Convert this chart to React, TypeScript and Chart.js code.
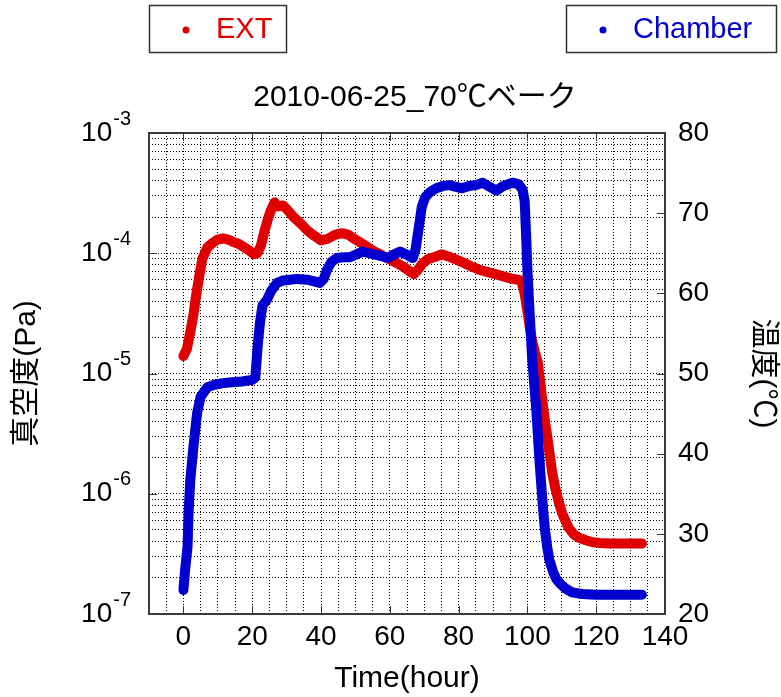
import React, { useEffect, useRef } from "react";
import { Chart, registerables } from "chart.js";

Chart.register(...registerables);

// ---- data ----
const extHours = [0, 1, 2, 3, 3.5, 4.5, 5.5, 7, 8.5, 10, 11.5, 13, 14.5, 16, 17.5, 19, 20.5, 21.5, 22.5, 23.5, 24.5, 25.5, 26.5, 27.5, 29, 30.5, 32, 34, 36, 38, 40, 42, 44, 46, 48, 50, 52, 54, 56, 58, 60, 62, 64, 66, 67, 68, 69.5, 71, 73, 75, 77, 79.5, 82, 84, 86, 89, 91.5, 94, 96, 97.7, 98.5, 99.2, 100, 100.7, 101.5, 102.2, 103, 103.7, 104.4, 105.1, 105.8, 106.5, 107.2, 108, 109, 110, 111, 112, 113.5, 115, 117, 119, 121, 124, 127, 130, 133.3];
const extPa = [1.4e-5, 1.6e-5, 2.2e-5, 3.2e-5, 4.1e-5, 6.2e-5, 9.0e-5, 1.12e-4, 1.22e-4, 1.3e-4, 1.33e-4, 1.3e-4, 1.24e-4, 1.2e-4, 1.13e-4, 1.06e-4, 9.8e-5, 1.0e-4, 1.15e-4, 1.5e-4, 1.9e-4, 2.3e-4, 2.65e-4, 2.45e-4, 2.5e-4, 2.25e-4, 2.0e-4, 1.78e-4, 1.55e-4, 1.4e-4, 1.28e-4, 1.32e-4, 1.42e-4, 1.47e-4, 1.42e-4, 1.3e-4, 1.2e-4, 1.1e-4, 1.02e-4, 9.5e-5, 8.9e-5, 8.3e-5, 7.7e-5, 7.0e-5, 6.7e-5, 7.2e-5, 8.2e-5, 8.9e-5, 9.3e-5, 9.8e-5, 9.4e-5, 8.8e-5, 8.2e-5, 7.7e-5, 7.3e-5, 6.9e-5, 6.6e-5, 6.3e-5, 6.1e-5, 6.0e-5, 5.6e-5, 4.6e-5, 3.3e-5, 2.4e-5, 1.8e-5, 1.5e-5, 1.25e-5, 8.5e-6, 5.8e-6, 4.0e-6, 2.95e-6, 2.1e-6, 1.5e-6, 1.15e-6, 8.8e-7, 7.0e-7, 6.0e-7, 5.2e-7, 4.6e-7, 4.3e-7, 4.1e-7, 3.95e-7, 3.9e-7, 3.85e-7, 3.85e-7, 3.85e-7, 3.85e-7];

const chamberHours = [0, 0.5, 1.2, 1.5, 2, 2.9, 4, 5, 7, 9, 11.6, 14, 17, 20, 20.9, 21.7, 22.3, 23, 24.3, 25.5, 27.2, 29, 31, 33, 36, 38, 39.7, 40.8, 41.7, 43, 44.6, 46.5, 48.4, 50, 52, 54, 56, 58, 59.4, 61, 63, 65, 66.7, 67.5, 68, 68.7, 69.3, 70.3, 71.6, 73.5, 75.5, 77.4, 79, 81, 83, 85, 87, 89, 91, 93, 95.7, 97.5, 98.6, 99.2, 99.6, 100, 100.6, 101.4, 102.6, 103.5, 104.3, 105, 105.7, 106.4, 107.5, 108.5, 109.5, 111, 113, 116, 120, 125, 130, 133.3];
const chamberTemp = [23, 25.5, 28.4, 32.6, 36.7, 40.8, 45.1, 47.1, 48.3, 48.6, 48.8, 48.9, 49.0, 49.2, 49.5, 54, 56.5, 58.5, 59.2, 60.3, 61.3, 61.6, 61.7, 61.8, 61.7, 61.5, 61.3, 61.8, 62.9, 63.9, 64.4, 64.5, 64.5, 64.8, 65.2, 65.0, 64.8, 64.6, 64.4, 64.8, 65.2, 64.8, 64.4, 65.5, 67, 69, 70.8, 72, 72.6, 73.1, 73.4, 73.5, 73.3, 73.1, 73.4, 73.5, 73.8, 73.3, 72.8, 73.4, 73.8, 73.6, 72.9, 71.5, 67.5, 63, 57.9, 51.7, 45.4, 39.2, 34.5, 30.9, 28.5, 26.7, 25.2, 24.3, 23.8, 23.2, 22.7, 22.5, 22.4, 22.4, 22.4, 22.4];

const seriesLabels = ["EXT", "Chamber"];
const chartTitle = "2010-06-25_70℃ベーク";
const xTitle = "Time(hour)";
const yLeftTitle = "真空度(Pa)";
const yRightTitle = "温度(℃)";

const xTickLabels = [0, 20, 40, 60, 80, 100, 120, 140];
const xGridHours = [-10, -5, 0, 5, 10, 15, 20, 25, 30, 35, 40, 45, 50, 55, 60, 65, 70, 75, 80, 85, 90, 95, 100, 105, 110, 115, 120, 125, 130, 135, 140];
const pressureDecades = [-7, -6, -5, -4, -3];
const pressureMinorFactors = [2, 3, 4, 5, 6, 7, 8, 9];
const tempTicks = [20, 30, 40, 50, 60, 70, 80];

const FONT = '"Liberation Sans", "Noto Sans CJK JP", sans-serif';
const RED = "#e00000";
const BLUE = "#0000d0";

const decorPlugin = {
  id: "decor",
  afterDraw(chart: any) {
    const { ctx, chartArea: a, scales } = chart;
    const xs = scales.x;
    const yl = scales.y;
    const yr = scales.y1;
    ctx.save();
    // tick marks
    ctx.setLineDash([]);
    ctx.strokeStyle = "#333";
    ctx.lineWidth = 1;
    ctx.beginPath();
    xTickLabels.forEach((v) => {
      const px = Math.round(xs.getPixelForValue(v)) + 0.5;
      ctx.moveTo(px, a.bottom);
      ctx.lineTo(px, a.bottom - 8);
      ctx.moveTo(px, a.top);
      ctx.lineTo(px, a.top + 8);
    });
    pressureDecades.forEach((e) => {
      const py = Math.round(yl.getPixelForValue(Math.pow(10, e))) + 0.5;
      ctx.moveTo(a.left, py);
      ctx.lineTo(a.left + 8, py);
    });
    tempTicks.forEach((t) => {
      const py = Math.round(yr.getPixelForValue(t)) + 0.5;
      ctx.moveTo(a.right, py);
      ctx.lineTo(a.right - 8, py);
    });
    ctx.stroke();
    // frame
    ctx.lineWidth = 2;
    ctx.strokeStyle = "#3a3a3a";
    ctx.strokeRect(a.left, a.top, a.right - a.left, a.bottom - a.top);

    // left tick labels with superscripts
    ctx.fillStyle = "#000";
    ctx.textBaseline = "middle";
    ctx.textAlign = "left";
    pressureDecades.forEach((e) => {
      const py = yl.getPixelForValue(Math.pow(10, e));
      ctx.font = `28px ${FONT}`;
      const base = "10";
      const bw = ctx.measureText(base).width;
      ctx.font = `20px ${FONT}`;
      const exp = String(e);
      const ew = ctx.measureText(exp).width;
      const right = a.left - 18;
      const x0 = right - ew - bw - 1;
      ctx.font = `28px ${FONT}`;
      ctx.fillText(base, x0, py);
      ctx.font = `20px ${FONT}`;
      ctx.fillText(exp, x0 + bw + 1, py - 14);
    });

    // title
    ctx.font = `30px ${FONT}`;
    ctx.textAlign = "center";
    ctx.fillText(chartTitle, (a.left + a.right) / 2 + 8, 98);

    // legend boxes
    const boxes = [
      { x: 149, w: 137 },
      { x: 566, w: 210 },
    ];
    chart.data.datasets.forEach((ds: any) => {
      const b = boxes[ds.legendIndex];
      ctx.fillStyle = "#fff";
      ctx.fillRect(b.x, 5, b.w, 47);
      ctx.lineWidth = 1.5;
      ctx.strokeStyle = "#333";
      ctx.strokeRect(b.x + 0.5, 5.5, b.w, 47);
      ctx.fillStyle = ds.borderColor;
      ctx.beginPath();
      ctx.arc(b.x + 37, 30, 3.5, 0, Math.PI * 2);
      ctx.fill();
      ctx.font = `29px ${FONT}`;
      ctx.textAlign = "left";
      ctx.textBaseline = "middle";
      ctx.fillText(ds.label, b.x + 67, 30);
    });
    ctx.restore();
  },
};

export default function App() {
  const ref = useRef<HTMLCanvasElement | null>(null);
  useEffect(() => {
    if (!ref.current) return;
    const gridStyle = {
      color: "#000",
      lineWidth: 1,
      drawTicks: false,
    };
    const chart = new Chart(ref.current, {
      type: "line",
      data: {
        datasets: [
          {
            label: seriesLabels[1],
            legendIndex: 1,
            data: chamberHours.map((h, i) => ({ x: h, y: chamberTemp[i] })),
            yAxisID: "y1",
            borderColor: BLUE,
            backgroundColor: BLUE,
            borderWidth: 10,
            pointRadius: 0,
            borderCapStyle: "round",
            borderJoinStyle: "round",
            tension: 0,
            order: 0,
          } as any,
          {
            label: seriesLabels[0],
            legendIndex: 0,
            data: extHours.map((h, i) => ({ x: h, y: extPa[i] })),
            yAxisID: "y",
            borderColor: RED,
            backgroundColor: RED,
            borderWidth: 10,
            pointRadius: 0,
            borderCapStyle: "round",
            borderJoinStyle: "round",
            tension: 0,
            order: 1,
          } as any,
        ],
      },
      options: {
        responsive: false,
        animation: false,
        devicePixelRatio: 1,
        layout: { padding: { top: 133, left: 0, right: 0, bottom: 0 } },
        plugins: {
          legend: { display: false },
          title: { display: false },
          tooltip: { enabled: false },
        },
        scales: {
          x: {
            type: "linear",
            min: -10,
            max: 140,
            afterBuildTicks: (s: any) => {
              s.ticks = xGridHours.map((v) => ({ value: v }));
            },
            afterFit: (s: any) => {
              s.height = 83;
            },
            grid: gridStyle,
            border: { display: false, dash: [1, 2] },
            ticks: {
              autoSkip: false,
              maxRotation: 0,
              padding: 6,
              color: "#000",
              font: { family: FONT, size: 28 },
              callback: (v: any) => (xTickLabels.includes(Number(v)) ? String(v) : ""),
            },
            title: {
              display: true,
              text: xTitle,
              color: "#000",
              font: { family: FONT, size: 30 },
              padding: { top: 0, bottom: 0 },
            },
          },
          y: {
            type: "logarithmic",
            position: "left",
            min: 1e-7,
            max: 1e-3,
            afterBuildTicks: (s: any) => {
              const t: any[] = [];
              pressureDecades.forEach((e) => {
                t.push({ value: Math.pow(10, e) });
                if (e < pressureDecades[pressureDecades.length - 1]) {
                  pressureMinorFactors.forEach((k) => t.push({ value: k * Math.pow(10, e) }));
                }
              });
              s.ticks = t;
            },
            afterFit: (s: any) => {
              s.width = 149;
            },
            grid: gridStyle,
            border: { display: false, dash: [1, 2] },
            ticks: { display: false },
            title: {
              display: true,
              text: yLeftTitle,
              color: "#000",
              font: { family: FONT, size: 30 },
              padding: { top: 9, bottom: 0 },
            },
          },
          y1: {
            type: "linear",
            position: "right",
            min: 20,
            max: 80,
            afterBuildTicks: (s: any) => {
              s.ticks = tempTicks.map((v) => ({ value: v }));
            },
            afterFit: (s: any) => {
              s.width = 116;
            },
            grid: { drawOnChartArea: false, drawTicks: false },
            border: { display: false },
            ticks: {
              padding: 13,
              color: "#000",
              font: { family: FONT, size: 28 },
            },
            title: {
              display: true,
              text: yRightTitle,
              color: "#000",
              font: { family: FONT, size: 30 },
              padding: { top: 0, bottom: 0 },
            },
          },
        },
      } as any,
      plugins: [decorPlugin],
    });
    return () => chart.destroy();
  }, []);
  return (
    <div style={{ position: "absolute", left: 0, top: 0, width: 781, height: 697, background: "#fff" }}>
      <canvas ref={ref} width={781} height={697} style={{ display: "block" }} />
    </div>
  );
}
